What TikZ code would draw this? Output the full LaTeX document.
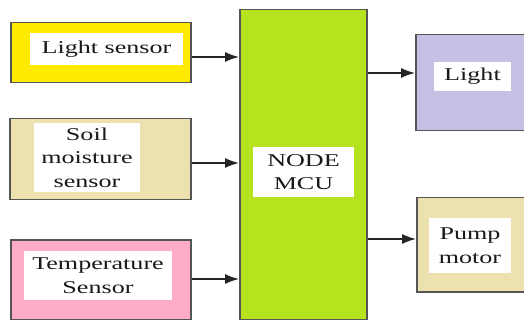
\documentclass[tikz,border=0pt]{standalone}
\usepackage{fontspec}
\setmainfont{Liberation Serif}
\usetikzlibrary{arrows.meta}
\definecolor{cyel}{RGB}{255,235,0}
\definecolor{cbeige}{RGB}{237,225,176}
\definecolor{cpink}{RGB}{255,172,200}
\definecolor{cgreen}{RGB}{181,228,30}
\definecolor{clav}{RGB}{200,191,228}
\definecolor{cborder}{RGB}{85,85,85}
\newcommand\wt[1]{\scalebox{1.45}[1]{#1}}
\tikzset{
  blk/.style={draw=cborder, line width=1.5pt, anchor=north west, inner sep=0pt, rectangle},
  lbl/.style={fill=white, inner sep=0pt, align=center, font=\rmfamily\fontsize{18}{23.5}\selectfont, text=black!90},
  arr/.style={line width=1.3pt, draw=black!85, -{Latex[length=14pt,width=10pt]}}
}
\begin{document}
\begin{tikzpicture}[x=1pt,y=-1pt]
\useasboundingbox (0,0) rectangle (524,320);
\clip (0,0) rectangle (524,320);
\fill[white] (0,0) rectangle (524,320);
% outer blocks
\node[blk, fill=cyel,   minimum width=180pt, minimum height=60pt]  (ls)   at (10,22)  {};
\node[blk, fill=cbeige, minimum width=181pt, minimum height=81pt]  (soil) at (9,118)  {};
\node[blk, fill=cpink,  minimum width=180pt, minimum height=80pt]  (temp) at (10,239) {};
\node[blk, fill=cgreen, minimum width=127pt, minimum height=310pt] (mcu)  at (239,9)  {};
\node[blk, fill=clav,   minimum width=130pt, minimum height=96pt]  (lt)   at (415,34) {};
\node[blk, fill=cbeige, minimum width=130pt, minimum height=94pt]  (pump) at (416,197) {};
% labels
\node[lbl, minimum width=153pt, minimum height=32pt] (lsT)   at (106.5,49)   {\wt{Light sensor}};
\node[lbl, minimum width=106pt, minimum height=69pt] (soilT) at (87,157.5)   {\wt{Soil}\\\wt{moisture}\\\wt{sensor}};
\node[lbl, minimum width=148pt, minimum height=49pt] (tempT) at (98,275.5)   {\wt{Temperature}\\\wt{Sensor}};
\node[lbl, minimum width=101pt, minimum height=50pt] (mcuT)  at (303.5,172)  {\wt{NODE}\\\wt{MCU}};
\node[lbl, minimum width=77pt,  minimum height=29pt] (ltT)   at (472.5,76.5) {\wt{Light}};
\node[lbl, minimum width=82pt,  minimum height=55pt] (pumpT) at (470,245.5)  {\wt{Pump}\\\wt{motor}};
% connectors
\draw[arr] (ls.east |- 0,57)    -- (mcu.west |- 0,57);
\draw[arr] (soil.east |- 0,163) -- (mcu.west |- 0,163);
\draw[arr] (temp.east |- 0,279) -- (mcu.west |- 0,279);
\draw[arr] (mcu.east |- 0,73)   -- (lt.west |- 0,73);
\draw[arr] (mcu.east |- 0,239)  -- (pump.west |- 0,239);
\end{tikzpicture}
\end{document}
